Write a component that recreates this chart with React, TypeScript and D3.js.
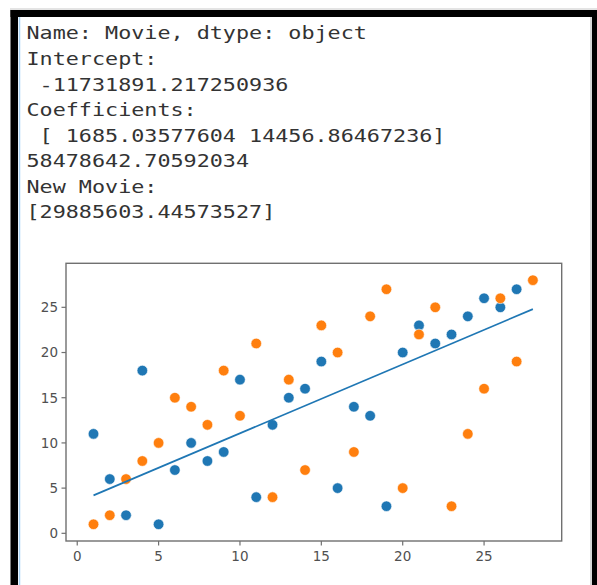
import React from "react";
import * as d3 from "d3";

const textLines = [
  "Name: Movie, dtype: object",
  "Intercept:",
  " -11731891.217250936",
  "Coefficients:",
  " [ 1685.03577604 14456.86467236]",
  "58478642.70592034",
  "New Movie:",
  "[29885603.44573527]",
];

const blueX = [1, 2, 3, 4, 5, 6, 7, 8, 9, 10, 11, 12, 13, 14, 15, 16, 17, 18, 19, 20, 21, 22, 23, 24, 25, 26, 27];
const blueY = [11, 6, 2, 18, 1, 7, 10, 8, 9, 17, 4, 12, 15, 16, 19, 5, 14, 13, 3, 20, 23, 21, 22, 24, 26, 25, 27];

const orangeX = [1, 2, 3, 4, 5, 6, 7, 8, 9, 10, 11, 12, 13, 14, 15, 16, 17, 18, 19, 20, 21, 22, 23, 24, 25, 26, 27, 28];
const orangeY = [1, 2, 6, 8, 10, 15, 14, 12, 18, 13, 21, 4, 17, 7, 23, 20, 9, 24, 27, 5, 22, 25, 3, 11, 16, 26, 19, 28];

const lineX = [1, 28];
const lineY = [4.2, 24.8];

const xTicks = [0, 5, 10, 15, 20, 25];
const yTicks = [0, 5, 10, 15, 20, 25];

const W = 597;
const H = 585;

export default function App() {
  const left = 66, right = 561.7, top = 263.3, bottom = 541;
  const x = d3.scaleLinear().domain([-0.69, 29.77]).range([left, right]);
  const y = d3.scaleLinear().domain([-0.85, 29.87]).range([bottom, top]);
  const line = d3
    .line<number>()
    .x((_, i) => x(lineX[i]))
    .y((d) => y(d));

  const blue = "#1f77b4";
  const orange = "#ff7f0e";
  const axisColor = "#707070";
  const tickText = "#505050";
  const sx = 1.209;

  return (
    <svg
      width={W}
      height={H}
      style={{ position: "absolute", left: 0, top: 0, background: "#fff" }}
    >
      <rect x={0} y={0} width={W} height={H} fill="#fff" />
      {/* frame */}
      <line x1={10} x2={W} y1={9} y2={9} stroke="#c8c8c8" strokeWidth={1} />
      <rect x={10.5} y={10} width={7.5} height={H - 10} fill="#000" />
      <rect x={10.5} y={10} width={W - 10.5} height={7} fill="#000" />
      <rect x={592} y={10} width={5} height={H - 10} fill="#000" />
      <line x1={591} x2={591} y1={17} y2={H} stroke="#b0b0b0" strokeWidth={1} />
      <line x1={19.5} x2={19.5} y1={17} y2={H} stroke="#a9d4f5" strokeWidth={1.5} />

      {/* text output */}
      <g
        fontFamily="'DejaVu Sans Mono', monospace"
        fontSize={18}
        fill="#333"
        transform={`translate(26.5,0) scale(${sx},1)`}
      >
        {textLines.map((t, i) => (
          <text key={i} x={0} y={39.5 + i * 25.57}>
            {t.replace(/ /g, "\u00a0")}
          </text>
        ))}
      </g>

      {/* plot frame */}
      <rect
        x={left}
        y={top}
        width={right - left}
        height={bottom - top}
        fill="none"
        stroke={axisColor}
        strokeWidth={1.4}
      />

      {/* ticks */}
      <g fontFamily="'DejaVu Sans', sans-serif" fontSize={13.5} fill={tickText}>
        {xTicks.map((t) => (
          <g key={"x" + t}>
            <line x1={x(t)} x2={x(t)} y1={bottom} y2={bottom + 4.5} stroke={axisColor} strokeWidth={1.2} />
            <text x={x(t)} y={bottom + 19.5} textAnchor="middle">
              {t}
            </text>
          </g>
        ))}
        {yTicks.map((t) => (
          <g key={"y" + t}>
            <line x1={left - 4.5} x2={left} y1={y(t)} y2={y(t)} stroke={axisColor} strokeWidth={1.2} />
            <text x={left - 8} y={y(t) + 4.9} textAnchor="end">
              {t}
            </text>
          </g>
        ))}
      </g>

      {/* scatter */}
      <g>
        {blueX.map((v, i) => (
          <circle key={"b" + i} cx={x(v)} cy={y(blueY[i])} r={5.3} fill={blue} stroke="#fff" strokeWidth={0.6} />
        ))}
        {orangeX.map((v, i) => (
          <circle key={"o" + i} cx={x(v)} cy={y(orangeY[i])} r={5.3} fill={orange} stroke="#fff" strokeWidth={0.6} />
        ))}
      </g>
      <path d={line(lineY) || ""} fill="none" stroke={blue} strokeWidth={1.7} />
    </svg>
  );
}
